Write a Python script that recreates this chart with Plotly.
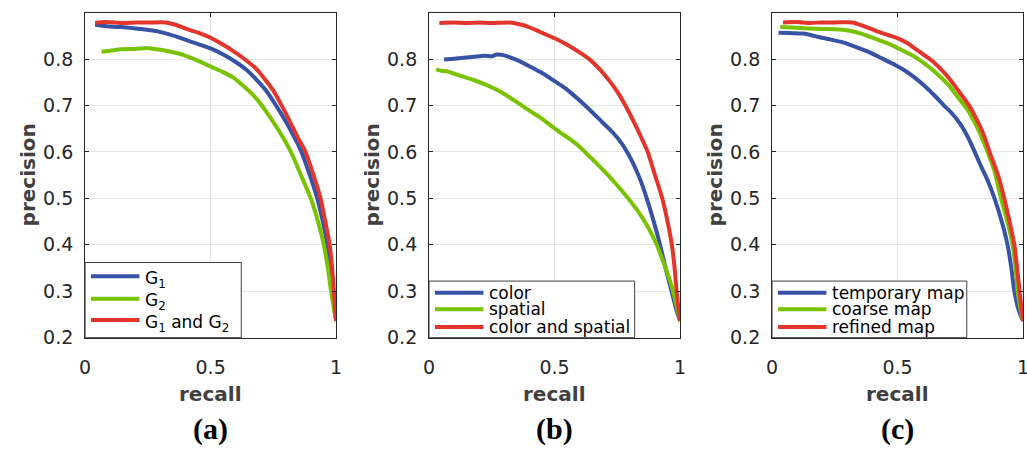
import plotly.graph_objects as go

# ---------------- data: precision-recall curves ----------------
# panel (a): graph components
recall_a_g1 = [0.04, 0.10, 0.144, 0.20, 0.262, 0.31, 0.367, 0.43, 0.50, 0.55, 0.591, 0.64, 0.682, 0.72, 0.755,
               0.80, 0.84, 0.862, 0.895, 0.925, 0.947, 0.965, 0.977, 0.986, 0.994, 1.0]
prec_a_g1 = [0.874, 0.870, 0.869, 0.866, 0.862, 0.857, 0.848, 0.836, 0.823, 0.810, 0.797, 0.778, 0.756, 0.733, 0.705,
             0.665, 0.625, 0.600, 0.550, 0.500, 0.450, 0.400, 0.350, 0.300, 0.260, 0.236]

recall_a_g2 = [0.066, 0.10, 0.144, 0.20, 0.249, 0.30, 0.341, 0.38, 0.42, 0.46, 0.50, 0.55, 0.591, 0.625, 0.656,
               0.69, 0.72, 0.76, 0.795, 0.825, 0.86, 0.899, 0.928, 0.951, 0.967, 0.980, 0.992, 1.0]
prec_a_g2 = [0.816, 0.818, 0.821, 0.822, 0.824, 0.820, 0.816, 0.811, 0.803, 0.794, 0.784, 0.772, 0.760, 0.745, 0.730,
             0.710, 0.688, 0.656, 0.625, 0.594, 0.550, 0.500, 0.450, 0.400, 0.350, 0.300, 0.260, 0.236]

recall_a_both = [0.04, 0.08, 0.15, 0.20, 0.26, 0.32, 0.36, 0.41, 0.46, 0.50, 0.54, 0.58, 0.64, 0.68, 0.72, 0.75,
                 0.78, 0.81, 0.85, 0.878, 0.91, 0.938, 0.957, 0.974, 0.984, 0.991, 0.996, 1.0]
prec_a_both = [0.878, 0.880, 0.878, 0.879, 0.879, 0.879, 0.874, 0.864, 0.855, 0.846, 0.834, 0.821, 0.798, 0.780,
               0.754, 0.732, 0.703, 0.672, 0.628, 0.600, 0.550, 0.500, 0.450, 0.400, 0.350, 0.300, 0.260, 0.236]

# panel (b): saliency cues
recall_b_color = [0.06, 0.10, 0.178, 0.22, 0.25, 0.27, 0.30, 0.336, 0.37, 0.402, 0.45, 0.493, 0.535, 0.572, 0.61,
                  0.651, 0.69, 0.73, 0.765, 0.795, 0.82, 0.845, 0.867, 0.895, 0.92, 0.942, 0.966, 0.985, 1.0]
prec_b_color = [0.799, 0.801, 0.805, 0.807, 0.806, 0.810, 0.808, 0.801, 0.793, 0.784, 0.770, 0.755, 0.740, 0.724,
                0.706, 0.685, 0.664, 0.643, 0.620, 0.594, 0.567, 0.535, 0.500, 0.450, 0.400, 0.350, 0.300, 0.260,
                0.236]

recall_b_spatial = [0.028, 0.05, 0.07, 0.12, 0.178, 0.22, 0.27, 0.32, 0.362, 0.40, 0.441, 0.48, 0.52, 0.56, 0.598,
                    0.638, 0.677, 0.72, 0.756, 0.79, 0.83, 0.87, 0.907, 0.935, 0.955, 0.972, 0.987, 1.0]
prec_b_spatial = [0.778, 0.775, 0.774, 0.765, 0.755, 0.746, 0.734, 0.718, 0.703, 0.689, 0.675, 0.659, 0.643, 0.628,
                  0.612, 0.591, 0.570, 0.546, 0.524, 0.502, 0.474, 0.440, 0.400, 0.360, 0.330, 0.300, 0.265, 0.236]

recall_b_both = [0.041, 0.10, 0.15, 0.20, 0.25, 0.323, 0.36, 0.388, 0.44, 0.50, 0.55, 0.598, 0.638, 0.68, 0.72,
                 0.752, 0.782, 0.82, 0.848, 0.871, 0.90, 0.929, 0.95, 0.967, 0.978, 0.986, 0.994, 1.0]
prec_b_both = [0.878, 0.879, 0.878, 0.879, 0.878, 0.879, 0.875, 0.871, 0.859, 0.845, 0.831, 0.815, 0.800, 0.778,
               0.752, 0.728, 0.700, 0.660, 0.628, 0.600, 0.550, 0.500, 0.450, 0.400, 0.350, 0.300, 0.260, 0.236]

# panel (c): map refinement stages
recall_c_temp = [0.026, 0.07, 0.125, 0.16, 0.19, 0.235, 0.282, 0.33, 0.387, 0.44, 0.492, 0.53, 0.571, 0.61, 0.65,
                 0.685, 0.715, 0.75, 0.78, 0.805, 0.83, 0.86, 0.886, 0.915, 0.938, 0.953, 0.965, 0.982, 1.0]
prec_c_temp = [0.857, 0.856, 0.855, 0.851, 0.847, 0.842, 0.836, 0.827, 0.815, 0.801, 0.787, 0.775, 0.759, 0.741,
               0.720, 0.700, 0.684, 0.660, 0.632, 0.603, 0.572, 0.537, 0.500, 0.450, 0.400, 0.350, 0.300, 0.260, 0.236]

recall_c_coarse = [0.033, 0.08, 0.15, 0.20, 0.269, 0.31, 0.361, 0.41, 0.466, 0.50, 0.545, 0.585, 0.623, 0.66, 0.702,
                   0.74, 0.781, 0.815, 0.84, 0.862, 0.885, 0.912, 0.937, 0.958, 0.970, 0.978, 0.990, 1.0]
prec_c_coarse = [0.869, 0.868, 0.866, 0.865, 0.864, 0.861, 0.854, 0.844, 0.833, 0.824, 0.812, 0.799, 0.784, 0.767,
                 0.745, 0.718, 0.689, 0.655, 0.625, 0.595, 0.560, 0.500, 0.450, 0.400, 0.350, 0.300, 0.260, 0.236]

recall_c_refined = [0.043, 0.10, 0.15, 0.20, 0.25, 0.321, 0.36, 0.413, 0.46, 0.499, 0.54, 0.571, 0.60, 0.636, 0.68,
                    0.715, 0.75, 0.781, 0.815, 0.846, 0.866, 0.90, 0.925, 0.946, 0.965, 0.976, 0.986, 0.994, 1.0]
prec_c_refined = [0.879, 0.880, 0.878, 0.879, 0.879, 0.879, 0.872, 0.861, 0.852, 0.845, 0.834, 0.822, 0.811, 0.797,
                  0.774, 0.752, 0.726, 0.703, 0.670, 0.633, 0.600, 0.550, 0.500, 0.450, 0.400, 0.350, 0.300, 0.260, 0.236]

names_a = ["G<sub>1</sub>", "G<sub>2</sub>", "G<sub>1</sub> and G<sub>2</sub>"]
names_b = ["color", "spatial", "color and spatial"]
names_c = ["temporary map", "coarse map", "refined map"]
panel_labels = ["(a)", "(b)", "(c)"]

x_ticks = [0, 0.5, 1]
x_ticktext = ["0", "0.5", "1"]
y_ticks = [0.2, 0.3, 0.4, 0.5, 0.6, 0.7, 0.8]
y_ticktext = ["0.2", "0.3", "0.4", "0.5", "0.6", "0.7", "0.8"]

colors = ["#3853A6", "#79C200", "#E3352B"]

# ---------------- layout geometry (pixels) ----------------
W, H = 1040, 457
plot_left = [80, 428, 775]
plot_w = 254
plot_top, plot_bottom = 13, 346
plot_h = plot_bottom - plot_top

panels = [
    ([recall_a_g1, recall_a_g2, recall_a_both], [prec_a_g1, prec_a_g2, prec_a_both], names_a),
    ([recall_b_color, recall_b_spatial, recall_b_both], [prec_b_color, prec_b_spatial, prec_b_both], names_b),
    ([recall_c_temp, recall_c_coarse, recall_c_refined], [prec_c_temp, prec_c_coarse, prec_c_refined], names_c),
]

# legend box sizes (px) and row centres (px from plot bottom)
legend_box = [(158, 77), (208, 58), (197, 58)]
legend_rows = [(63, 40, 18), (46, 29, 11), (46, 29, 11)]

AX = "#262626"
TICKFONT = dict(family="DejaVu Sans", size=19, color=AX)

fig = go.Figure()
shapes = []
annotations = []
layout = {}

for i, (xs, ys, names) in enumerate(panels):
    sfx = "" if i == 0 else str(i + 1)
    xa, ya = "x" + sfx, "y" + sfx
    for k in range(3):
        fig.add_trace(go.Scatter(
            x=xs[k], y=ys[k], mode="lines", name=names[k],
            line=dict(color=colors[k], width=4, shape="spline", smoothing=0.6),
            xaxis=xa, yaxis=ya, showlegend=False, hoverinfo="skip",
        ))

    x0 = plot_left[i] / W
    x1 = (plot_left[i] + plot_w) / W
    common = dict(
        showgrid=True, gridcolor="#e6e6e6", gridwidth=1, zeroline=False,
        showline=True, linecolor=AX, linewidth=1, mirror="ticks",
        ticks="inside", ticklen=4, tickwidth=1, tickcolor=AX,
        tickfont=TICKFONT, fixedrange=True,
    )
    layout["xaxis" + sfx] = dict(
        common, domain=[x0, x1], range=[0, 1], anchor=ya,
        tickvals=x_ticks, ticktext=x_ticktext, ticklabelstandoff=13,
    )
    layout["yaxis" + sfx] = dict(
        common, domain=[1 - plot_bottom / H, 1 - plot_top / H], range=[0.2, 0.9], anchor=xa,
        tickvals=y_ticks, ticktext=y_ticktext, ticklabelstandoff=7,
    )

    # axis titles and panel label
    cx = (plot_left[i] + plot_w / 2) / W
    annotations.append(dict(
        text="<b>recall</b>", xref="paper", yref="paper", x=cx, y=1 - 404 / H,
        xanchor="center", yanchor="middle", showarrow=False,
        font=dict(family="DejaVu Sans", size=20, color="#404040"),
    ))
    annotations.append(dict(
        text="<b>precision</b>", xref="paper", yref="paper", x=(plot_left[i] - 57.5) / W,
        y=1 - (plot_top + plot_bottom) / 2 / H, textangle=-90,
        xanchor="center", yanchor="middle", showarrow=False,
        font=dict(family="DejaVu Sans", size=20, color="#404040"),
    ))
    annotations.append(dict(
        text="<b>" + panel_labels[i] + "</b>", xref="paper", yref="paper", x=cx, y=1 - 440 / H,
        xanchor="center", yanchor="middle", showarrow=False,
        font=dict(family="Liberation Serif", size=30, color="black"),
    ))

    # legend box in the lower-left corner of each panel
    bw, bh = legend_box[i]
    xd, yd = xa + " domain", ya + " domain"
    shapes.append(dict(
        type="rect", xref=xd, yref=yd, x0=0, x1=bw / plot_w, y0=0, y1=bh / plot_h,
        line=dict(color="#404040", width=1), fillcolor="white", layer="above",
    ))
    for k in range(3):
        ry = legend_rows[i][k] / plot_h
        shapes.append(dict(
            type="line", xref=xd, yref=yd, x0=6 / plot_w, x1=55 / plot_w, y0=ry, y1=ry,
            line=dict(color=colors[k], width=4), layer="above",
        ))
        annotations.append(dict(
            text=names[k], xref=xd, yref=yd, x=60 / plot_w, y=ry,
            xanchor="left", yanchor="middle", showarrow=False,
            yshift=-3 if i == 0 else 0, borderpad=0,
            font=dict(family="DejaVu Sans", size=17, color="black"),
        ))

fig.update_layout(
    **layout,
    width=W, height=H, autosize=False,
    margin=dict(l=0, r=0, t=0, b=0, pad=0),
    paper_bgcolor="white", plot_bgcolor="white",
    shapes=shapes, annotations=annotations,
    showlegend=False,
)

fig.write_html(
    "out.html",
    config={"displayModeBar": False, "staticPlot": True},
    post_script="document.documentElement.style.overflow='hidden';document.body.style.overflow='hidden';",
)
